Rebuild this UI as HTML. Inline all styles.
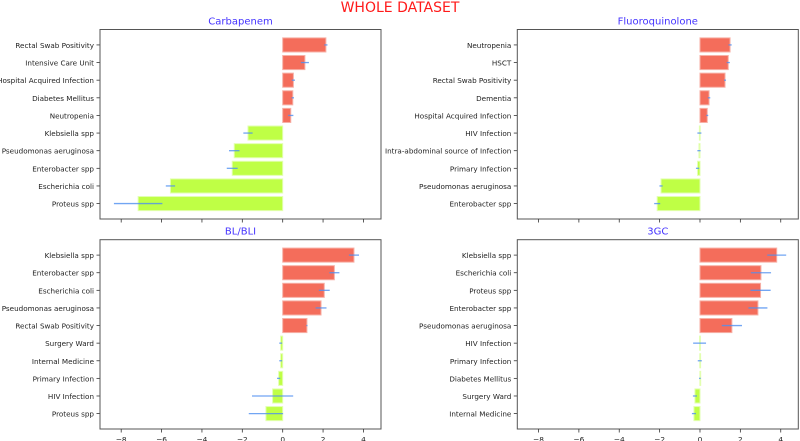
<!DOCTYPE html>
<html><head><meta charset="utf-8"><style>
body{margin:0;background:#fff;width:800px;height:441px;overflow:hidden}
svg{display:block;font-family:"DejaVu Sans","Liberation Sans",sans-serif}
</style></head><body>
<svg id="chart" width="800" height="441">
<text x="400" y="12" text-anchor="middle" font-size="14" fill="#ff1a1a">WHOLE DATASET</text>
</svg>
<script>
const carbCats=["Rectal Swab Positivity","Intensive Care Unit","Hospital Acquired Infection","Diabetes Mellitus","Neutropenia","Klebsiella spp","Pseudomonas aeruginosa","Enterobacter spp","Escherichia coli","Proteus spp"];
const carbVals=[2.14,1.1,0.53,0.5,0.4,-1.72,-2.4,-2.5,-5.56,-7.16];
const carbErr=[0.08,0.2,0.08,0.06,0.13,0.23,0.26,0.27,0.23,1.2];
const fqCats=["Neutropenia","HSCT","Rectal Swab Positivity","Dementia","Hospital Acquired Infection","HIV Infection","Intra-abdominal source of Infection","Primary Infection","Pseudomonas aeruginosa","Enterobacter spp"];
const fqVals=[1.49,1.4,1.24,0.45,0.36,-0.03,-0.05,-0.12,-1.93,-2.12];
const fqErr=[0.08,0.08,0.05,0.06,0.05,0.1,0.08,0.08,0.08,0.15];
const blCats=["Klebsiella spp","Enterobacter spp","Escherichia coli","Pseudomonas aeruginosa","Rectal Swab Positivity","Surgery Ward","Internal Medicine","Primary Infection","HIV Infection","Proteus spp"];
const blVals=[3.53,2.56,2.06,1.9,1.2,-0.1,-0.1,-0.2,-0.5,-0.83];
const blErr=[0.25,0.25,0.27,0.27,0.03,0.07,0.07,0.08,1.02,0.85];
const gcCats=["Klebsiella spp","Escherichia coli","Proteus spp","Enterobacter spp","Pseudomonas aeruginosa","HIV Infection","Primary Infection","Diabetes Mellitus","Surgery Ward","Internal Medicine"];
const gcVals=[3.8,3.02,3.0,2.87,1.58,-0.02,-0.01,-0.005,-0.25,-0.3];
const gcErr=[0.47,0.5,0.5,0.47,0.5,0.32,0.1,0.04,0.1,0.1];
const xTicks=[-8,-6,-4,-2,0,2,4];
const xMin=-9.05,xMax=4.87;
const NS="http://www.w3.org/2000/svg";
const svg=document.getElementById('chart');
function mk(t,a,p){const e=document.createElementNS(NS,t);for(const k in a)e.setAttribute(k,a[k]);(p||svg).appendChild(e);return e;}
function panel(name,title,cats,vals,errs,L,T,W,H,showLabels){
  const g=mk('g',{});
  
  
  const sx=v=>L+(v-xMin)/(xMax-xMin)*W;
  const step=H/10.75, y0=T+H/2-step*4.5;
  const sy=i=>y0+i*step;
  const tt=mk('text',{x:L+W/2,y:T-5,'text-anchor':'middle','font-size':10,fill:'#4433ff'},g);
  tt.textContent=title;
  
  
  cats.forEach((c,i)=>{
    const v=vals[i],x0=sx(0),x1=sx(v),y=sy(i),bh=step*0.8;
    const r=mk('rect',{x:Math.min(x0,x1),y:y-bh/2,width:Math.max(Math.abs(x1-x0),0.8),height:bh,fill:v>=0?'#f46d5b':'#bfff45',stroke:v>=0?'#f7b0a6':'#e2ffb0','stroke-width':1},g);
    
    
    const e=mk('line',{x1:sx(v-errs[i]),x2:sx(v+errs[i]),y1:y,y2:y,stroke:'#4d8ff0','stroke-width':1.3,'stroke-opacity':0.8},g);
    
    
    mk('line',{x1:L-3.5,x2:L,y1:y,y2:y,stroke:'#333','stroke-width':0.8},g);
    const t=mk('text',{x:L-6,y:y+3,'text-anchor':'end','font-size':7.2,fill:'#222'},g);
    t.textContent=c;
    
    
  });
  const fr=mk('rect',{x:L,y:T,width:W,height:H,fill:'none',stroke:'#555','stroke-width':1},g);
  
  
  xTicks.forEach(tk=>{
    const x=sx(tk);
    mk('line',{x1:x,x2:x,y1:T+H,y2:T+H+3.5,stroke:'#333','stroke-width':0.8},g);
    if(showLabels){
      const t=mk('text',{x:x,y:T+H+13,'text-anchor':'middle','font-size':7.4,fill:'#222'},g);
      t.textContent=(tk<0?'\u2212'+(-tk):tk);
      
      
    }
  });
}
panel('carbapenem','Carbapenem',carbCats,carbVals,carbErr,100,29.5,281,189.5,false);
panel('fluoroquinolone','Fluoroquinolone',fqCats,fqVals,fqErr,517.3,29.5,281,189.5,false);
panel('bl-bli','BL/BLI',blCats,blVals,blErr,100,239.7,281,189.3,true);
panel('3gc','3GC',gcCats,gcVals,gcErr,517.3,239.7,281,189.3,true);
</script>
</body></html>
